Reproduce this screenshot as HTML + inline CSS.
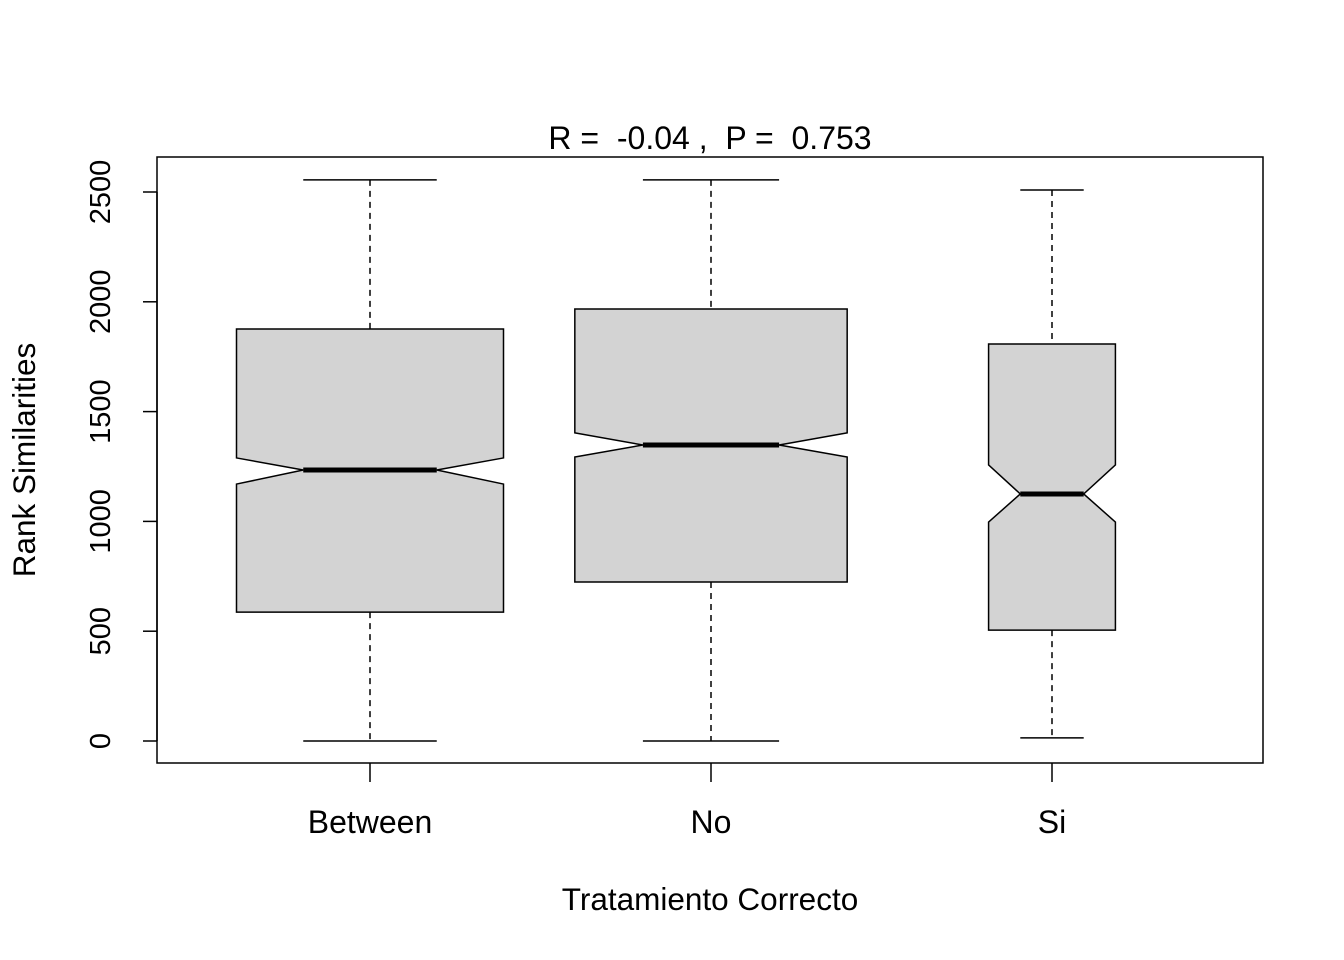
<!DOCTYPE html>
<html><head><meta charset="utf-8"><style>
body{margin:0;background:#fff}
svg{display:block}
text{font-family:"Liberation Sans",sans-serif;fill:#000;white-space:pre}
</style></head><body>
<svg id="chart" width="1344" height="960">
<text x="710" y="149" font-size="32" text-anchor="middle" xml:space="preserve">R =  -0.04 ,  P =  0.753</text>
<rect x="157" y="157" width="1106" height="606" fill="none" stroke="#000" stroke-width="1.5"/>
<text x="710" y="910" font-size="31.5" text-anchor="middle">Tratamiento Correcto</text>
<text transform="translate(35,460) rotate(-90)" font-size="31.5" text-anchor="middle">Rank Similarities</text>
<g id="marks"></g>
</svg>
<script>
const categories=["Between","No","Si"];
const whiskerLow=[0,0,14];
const q1=[587,724,505];
const notchLow=[1170,1293,997];
const median=[1234,1348,1125];
const notchHigh=[1289,1403,1257];
const q3=[1876,1967,1808];
const whiskerHigh=[2555,2555,2509];
const relWidth=[1,1.02,0.475];
const yTicks=[0,500,1000,1500,2000,2500];
const ys=v=>741-v*0.2196;
const xs=i=>370+i*341;
const NS="http://www.w3.org/2000/svg";
const g=document.getElementById('marks');
function mk(tag,attrs,parent){const e=document.createElementNS(NS,tag);for(const k in attrs)e.setAttribute(k,attrs[k]);(parent||g).appendChild(e);return e;}
let ya=mk('line',{x1:157,x2:157,y1:ys(0),y2:ys(2500),stroke:'#000','stroke-width':1.5});


yTicks.forEach(t=>{
 const l=mk('line',{x1:143,x2:157,y1:ys(t),y2:ys(t),stroke:'#000','stroke-width':1.5});
 
 
 const tx=mk('text',{transform:`translate(110,${ys(t)}) rotate(-90)`,'font-size':29,'text-anchor':'middle'});
 tx.textContent=t;
 
 
});
categories.forEach((c,i)=>{
 const cx=xs(i),hw=133.5*relWidth[i],nw=hw/2;
 const l=mk('line',{x1:cx,x2:cx,y1:763,y2:782,stroke:'#000','stroke-width':1.5});
 
 
 const tx=mk('text',{x:cx,y:833,'font-size':32,'text-anchor':'middle'});
 tx.textContent=c;
 
 
 const grp=mk('g',{});
 
 
 mk('line',{x1:cx,x2:cx,y1:ys(whiskerHigh[i]),y2:ys(q3[i]),stroke:'#000','stroke-width':1.5,'stroke-dasharray':'6,5'},grp);
 mk('line',{x1:cx,x2:cx,y1:ys(q1[i]),y2:ys(whiskerLow[i]),stroke:'#000','stroke-width':1.5,'stroke-dasharray':'6,5'},grp);
 mk('line',{x1:cx-nw,x2:cx+nw,y1:ys(whiskerHigh[i]),y2:ys(whiskerHigh[i]),stroke:'#000','stroke-width':1.5},grp);
 mk('line',{x1:cx-nw,x2:cx+nw,y1:ys(whiskerLow[i]),y2:ys(whiskerLow[i]),stroke:'#000','stroke-width':1.5},grp);
 const pts=[[cx-hw,ys(q3[i])],[cx+hw,ys(q3[i])],[cx+hw,ys(notchHigh[i])],[cx+nw,ys(median[i])],[cx+hw,ys(notchLow[i])],[cx+hw,ys(q1[i])],[cx-hw,ys(q1[i])],[cx-hw,ys(notchLow[i])],[cx-nw,ys(median[i])],[cx-hw,ys(notchHigh[i])]];
 mk('polygon',{points:pts.map(p=>p.join(',')).join(' '),fill:'#d3d3d3',stroke:'#000','stroke-width':1.5},grp);
 mk('line',{x1:cx-nw,x2:cx+nw,y1:ys(median[i]),y2:ys(median[i]),stroke:'#000','stroke-width':5},grp);
});
</script>
</body></html>
